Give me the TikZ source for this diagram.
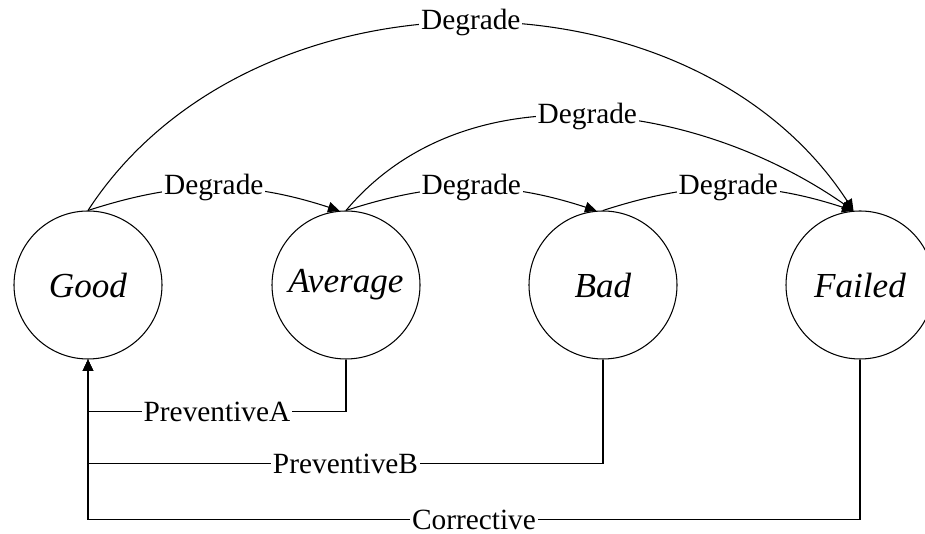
\documentclass[tikz,border=0pt]{standalone}
\usepackage{fontspec}
\setmainfont{LiberationSerif}[
    Extension=.ttf,
    UprightFont=*-Regular,
    ItalicFont=*-Italic,
    BoldFont=*-Bold,
    BoldItalicFont=*-BoldItalic]
\usetikzlibrary{arrows.meta}

\begin{document}
\begin{tikzpicture}[
    state/.style={
        draw,
        circle,
        line width=0.6pt,
        minimum size=2.96cm,
        inner sep=0pt,
        font=\fontsize{20}{24}\selectfont\itshape
    },
    lbl/.style={fill=white, inner sep=1pt, font=\fontsize{16.7}{20}\selectfont},
    arrow/.style={-{Triangle[length=6.5pt,width=6pt]}, line width=0.6pt}
]
\useasboundingbox (0,0) rectangle (18.5,10.68);

% ===== States =====
\node[state] (good)   at (1.76,4.98)  {Good};
\node[state] (avg)    at (6.92,4.98)  {Average};
\node[state] (bad)    at (12.06,4.98) {Bad};
\node[state] (failed) at (17.2,4.98)  {Failed};

% ===== Degrade arcs =====
\draw[arrow] (good.north) to[bend left=18] node[lbl] {Degrade} (avg.95);
\draw[arrow] (avg.north)  to[bend left=18] node[lbl] {Degrade} (bad.95);
\draw[arrow] (bad.north)  to[bend left=18] node[lbl] {Degrade} (failed.95);
\draw[arrow] (avg.north)  to[out=50, in=145, looseness=0.95] node[lbl] {Degrade} (failed.95);
\draw[arrow] (good.north) to[bend left=57] node[lbl] {Degrade} (failed.95);

% ===== Maintenance back to Good =====
\draw[arrow] (avg.south)    -- ++(0,-1.04) -| node[lbl, pos=0.25] {PreventiveA} (good.south);
\draw[arrow] (bad.south)    -- ++(0,-2.08) -| node[lbl, pos=0.25] {PreventiveB} (good.south);
\draw[arrow] (failed.south) -- ++(0,-3.2)  -| node[lbl, pos=0.25] {Corrective} (good.south);

\end{tikzpicture}
\end{document}
